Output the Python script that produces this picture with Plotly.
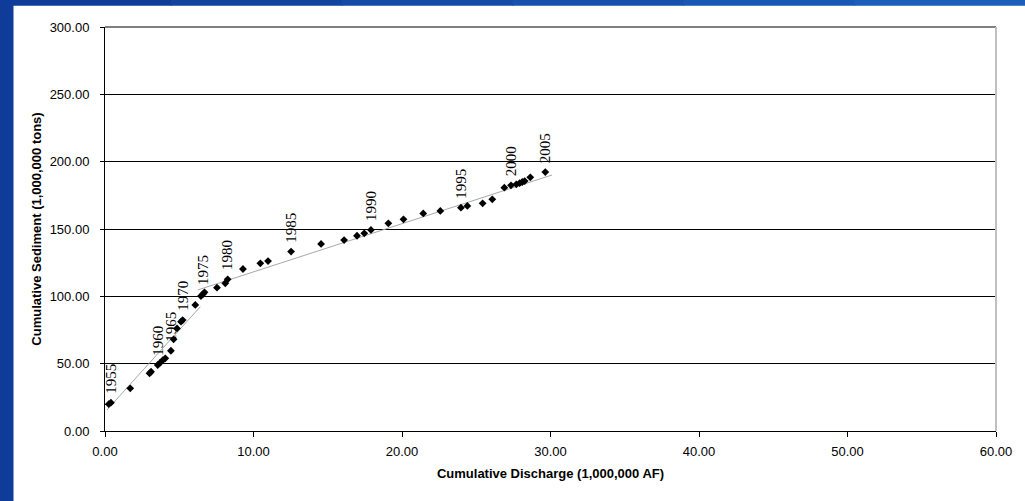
import plotly.graph_objects as go

# Cumulative discharge (1,000,000 AF) and cumulative sediment (1,000,000 tons)
discharge = [0.25, 0.40, 1.70, 3.00, 3.10, 3.55, 3.72, 3.90, 4.06, 4.44,
             4.62, 4.85, 5.12, 5.23, 6.08, 6.46, 6.60, 6.70, 7.54, 8.10,
             8.26, 9.29, 10.46, 10.98, 12.53, 14.55, 16.10, 16.97, 17.46, 17.91,
             19.08, 20.10, 21.43, 22.58, 23.97, 24.40, 25.43, 26.08, 26.89, 27.34,
             27.70, 27.92, 28.10, 28.26, 28.64, 29.65]
sediment = [20.0, 21.0, 31.7, 42.8, 44.0, 49.0, 50.7, 52.7, 54.0, 59.6,
            68.1, 76.2, 81.2, 82.4, 93.6, 100.2, 101.7, 103.0, 106.4, 109.7,
            112.6, 120.3, 124.5, 126.2, 133.2, 138.9, 141.8, 145.0, 146.8, 149.3,
            154.2, 157.2, 161.6, 163.4, 165.8, 167.1, 169.1, 172.0, 180.7, 182.4,
            183.2, 184.0, 184.9, 185.6, 188.4, 192.3]
# Year labels, by index into the series above
year_labels = {1: "1955", 5: "1960", 9: "1965", 13: "1970", 16: "1975",
               20: "1980", 24: "1985", 29: "1990", 34: "1995", 39: "2000",
               45: "2005"}

# Linear trend segments (before / after the 1975 break)
trend1_x = [0.13, 6.42]
trend1_y = [15.6, 92.3]
trend2_x = [6.24, 30.1]
trend2_y = [104.7, 190.1]

x_ticks = [0, 10, 20, 30, 40, 50, 60]
y_ticks = [0, 50, 100, 150, 200, 250, 300]

fig = go.Figure()
fig.add_trace(go.Scatter(x=trend1_x, y=trend1_y, mode="lines",
                         line=dict(color="#a8a8a8", width=1), hoverinfo="skip"))
fig.add_trace(go.Scatter(x=trend2_x, y=trend2_y, mode="lines",
                         line=dict(color="#a8a8a8", width=1), hoverinfo="skip"))
fig.add_trace(go.Scatter(x=discharge, y=sediment, mode="markers",
                         marker=dict(symbol="diamond", size=6, color="black")))

for i, txt in year_labels.items():
    fig.add_annotation(x=discharge[i], y=sediment[i], text=txt, showarrow=False,
                       textangle=-90, xanchor="center", yanchor="bottom", yshift=7,
                       font=dict(family="Liberation Serif", size=15, color="black"))

# Left / top blue frame of the slide
L, R, T, B = 105, 29, 27, 70
W, H = 1025 - L - R, 501 - T - B
def px_x(p):
    return (p - L) / W
def px_y(p):
    return (501 - B - p) / H

shapes = [
    dict(type="rect", xref="paper", yref="paper", x0=px_x(0), x1=px_x(13.5),
         y0=px_y(501), y1=px_y(0), fillcolor="#0f3c98", line=dict(width=0), layer="below"),
]
top_cols = ["#0f3c98", "#12449f", "#144ba6", "#1652ad", "#1858b4", "#1a5eba"]
seg = 1025 / len(top_cols)
for k, c in enumerate(top_cols):
    shapes.append(dict(type="rect", xref="paper", yref="paper",
                       x0=px_x(k * seg), x1=px_x((k + 1) * seg + 1),
                       y0=px_y(5.7), y1=px_y(0), fillcolor=c, line=dict(width=0),
                       layer="below"))
# plot-area frame: grey top and light grey right edge
shapes.append(dict(type="line", xref="paper", yref="paper", x0=0, x1=1, y0=1, y1=1,
                   line=dict(color="#808080", width=2), layer="above"))
shapes.append(dict(type="line", xref="paper", yref="paper", x0=1, x1=1, y0=0, y1=1,
                   line=dict(color="#c0c0c0", width=2), layer="above"))

fig.update_layout(
    width=1025, height=501,
    margin=dict(l=L, r=R, t=T, b=B, autoexpand=False),
    paper_bgcolor="white", plot_bgcolor="white",
    showlegend=False,
    font=dict(family="Liberation Sans, Arial", size=13, color="black"),
    shapes=shapes,
    xaxis=dict(range=[0, 60], tickvals=x_ticks, tickformat=".2f",
               showgrid=False, zeroline=False,
               showline=True, linecolor="black", linewidth=1,
               ticks="outside", ticklen=5, tickcolor="black", ticklabelstandoff=3,
               title=dict(text="<b>Cumulative Discharge (1,000,000 AF)</b>",
                          font=dict(size=13), standoff=11)),
    yaxis=dict(range=[0, 300], tickvals=y_ticks, tickformat=".2f",
               showgrid=True, gridcolor="black", gridwidth=1, zeroline=False,
               showline=True, linecolor="black", linewidth=1,
               ticks="outside", ticklen=4, tickcolor="black", ticklabelstandoff=8,
               title=dict(text="<b>Cumulative Sediment (1,000,000 tons)</b>",
                          font=dict(size=13), standoff=5)),
)

fig.write_html("out.html")
